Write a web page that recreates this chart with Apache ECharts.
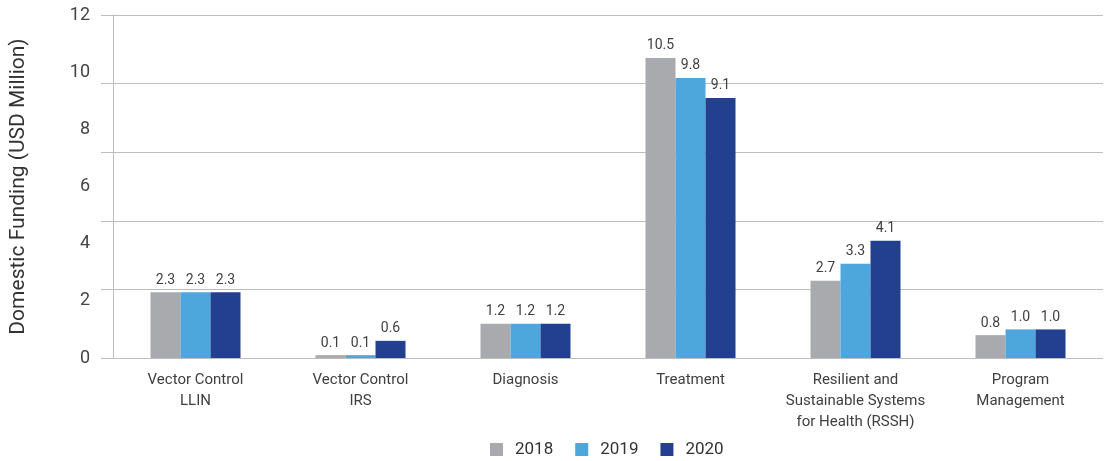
<!DOCTYPE html>
<html>
<head>
<meta charset="utf-8">
<script src="https://cdn.jsdelivr.net/npm/echarts@6/dist/echarts.min.js"></script>
<style>
  html, body { margin: 0; padding: 0; background: #fff; }
  #chart { width: 1106px; height: 461px; }
</style>
</head>
<body>
<div id="chart"></div>
<script>
// Domestic funding by intervention area, USD million
const categories = [
  'Vector Control\nLLIN',
  'Vector Control\nIRS',
  'Diagnosis',
  'Treatment',
  'Resilient and\nSustainable Systems\nfor Health (RSSH)',
  'Program\nManagement'
];
const years = ['2018', '2019', '2020'];
const values2018 = [2.3, 0.1, 1.2, 10.5, 2.7, 0.8];
const values2019 = [2.3, 0.1, 1.2, 9.8, 3.3, 1.0];
const values2020 = [2.3, 0.6, 1.2, 9.1, 4.1, 1.0];
const yTicks = [0, 2, 4, 6, 8, 10, 12];

const colors = ['#a9aaae', '#4da6dc', '#233f8f'];
const seriesValues = [values2018, values2019, values2020];
const FONT = 'Roboto, "Noto Sans", sans-serif';

const chart = echarts.init(document.getElementById('chart'));
chart.setOption({
  animation: false,
  textStyle: { fontFamily: FONT },
  color: colors,
  grid: { left: 106, right: 3, top: 15, bottom: 103, containLabel: false },
  legend: {
    top: 441,
    left: 490,
    padding: 0,
    itemWidth: 13,
    itemHeight: 13,
    itemGap: 22,
    icon: 'rect',
    textStyle: { fontSize: 17, color: '#333', padding: [0, 0, 0, 7] },
    data: years
  },
  xAxis: {
    type: 'category',
    data: categories,
    axisLine: { show: false },
    axisTick: { show: false },
    axisLabel: { fontSize: 15, color: '#404040', lineHeight: 21, margin: 12, interval: 0 }
  },
  yAxis: [
    {
      type: 'value',
      min: yTicks[0],
      max: yTicks[yTicks.length - 1],
      interval: yTicks[1] - yTicks[0],
      name: 'Domestic Funding (USD Million)',
      nameLocation: 'middle',
      nameRotate: 90,
      nameGap: 84,
      nameTextStyle: { fontSize: 21, color: '#333' },
      axisLine: { show: true, lineStyle: { color: '#bdbdbd', width: 1 } },
      axisTick: { show: false },
      splitLine: { show: false },
      axisLabel: { fontSize: 18, color: '#444', margin: 23 }
    },
    {
      // gridlines split the full range into five equal bands
      type: 'value',
      position: 'left',
      min: 0,
      max: 12,
      interval: 2.4,
      axisLine: { show: false },
      axisLabel: { show: false },
      axisTick: { show: true, length: 12, lineStyle: { color: '#bdbdbd', width: 1 } },
      splitLine: { show: true, lineStyle: { color: '#bdbdbd', width: 1 } }
    }
  ],
  series: years.map((y, i) => ({
    name: y,
    type: 'bar',
    yAxisIndex: 0,
    data: seriesValues[i],
    barWidth: 30,
    barGap: '0%',
    itemStyle: { color: colors[i] },
    label: {
      show: true,
      position: 'top',
      distance: 5,
      fontSize: 14,
      color: '#404040',
      formatter: p => p.value.toFixed(1)
    }
  }))
});
</script>
</body>
</html>
